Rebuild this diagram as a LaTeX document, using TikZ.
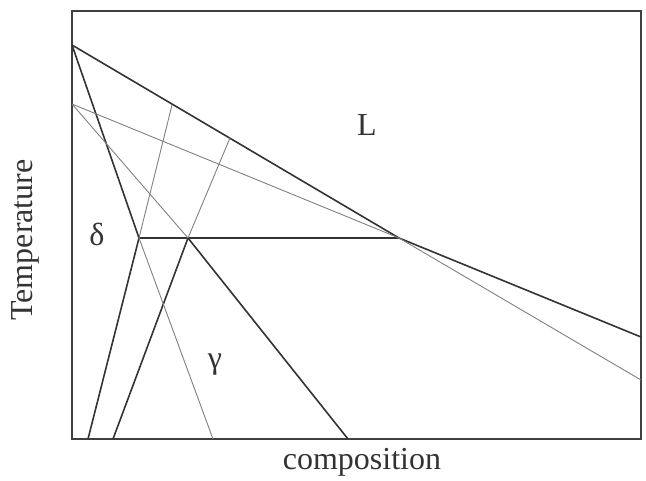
\documentclass[tikz,border=0pt]{standalone}
\usepackage{fontspec}
\setmainfont{Liberation Serif}
\tikzset{
  phase/.style={draw=black!80, line width=1.6pt},
  meta/.style={draw=black!50, line width=0.9pt},
  lbl/.style={inner sep=0pt, font=\fontsize{32}{36}\selectfont, text=black!80}
}
\begin{document}
\begin{tikzpicture}[x=1pt, y=-1pt]
\useasboundingbox (0,0) rectangle (646,480);
\draw[black!75, line width=1.6pt] (72,11) rectangle (641,439);
% points of the diagram
\coordinate (a0) at (72,45);
\coordinate (a1) at (641,380);
\coordinate (b0) at (72,104);
\coordinate (b1) at (641,337);
\coordinate (p) at (399,238);
\coordinate (q1) at (139,238);
\coordinate (q2) at (188,238);
\coordinate (s1) at (213,439);
\coordinate (s2) at (348,439);
\coordinate (s3) at (88,439);
\coordinate (s4) at (113,439);
\coordinate (t1) at (172,105);
\coordinate (t2) at (230,138);
% stable lines
\draw[phase] (a0) -- (p) -- (b1);
\draw[phase, line width=1.3pt] (q1) -- (p);
\draw[phase] (a0) -- (q1);
\draw[phase] (q2) -- (s2);
\draw[phase] (s3) -- (q1);
\draw[phase] (s4) -- (q2);
% metastable extensions
\draw[meta] (b0) -- (p) -- (a1);
\draw[meta] (q1) -- (s1);
\draw[meta] (b0) -- (q2);
\draw[meta] (q1) -- (t1);
\draw[meta] (q2) -- (t2);
% labels
\node[lbl] (liq) at (367,125) {L};
\node[lbl] (del) at (97,234) {δ};
\node[lbl] (gam) at (215,365) {γ};
\node[lbl, rotate=90] (temp) at (25,240) {Temperature};
\node[lbl] (comp) at (362,462) {composition};
\end{tikzpicture}
\end{document}
